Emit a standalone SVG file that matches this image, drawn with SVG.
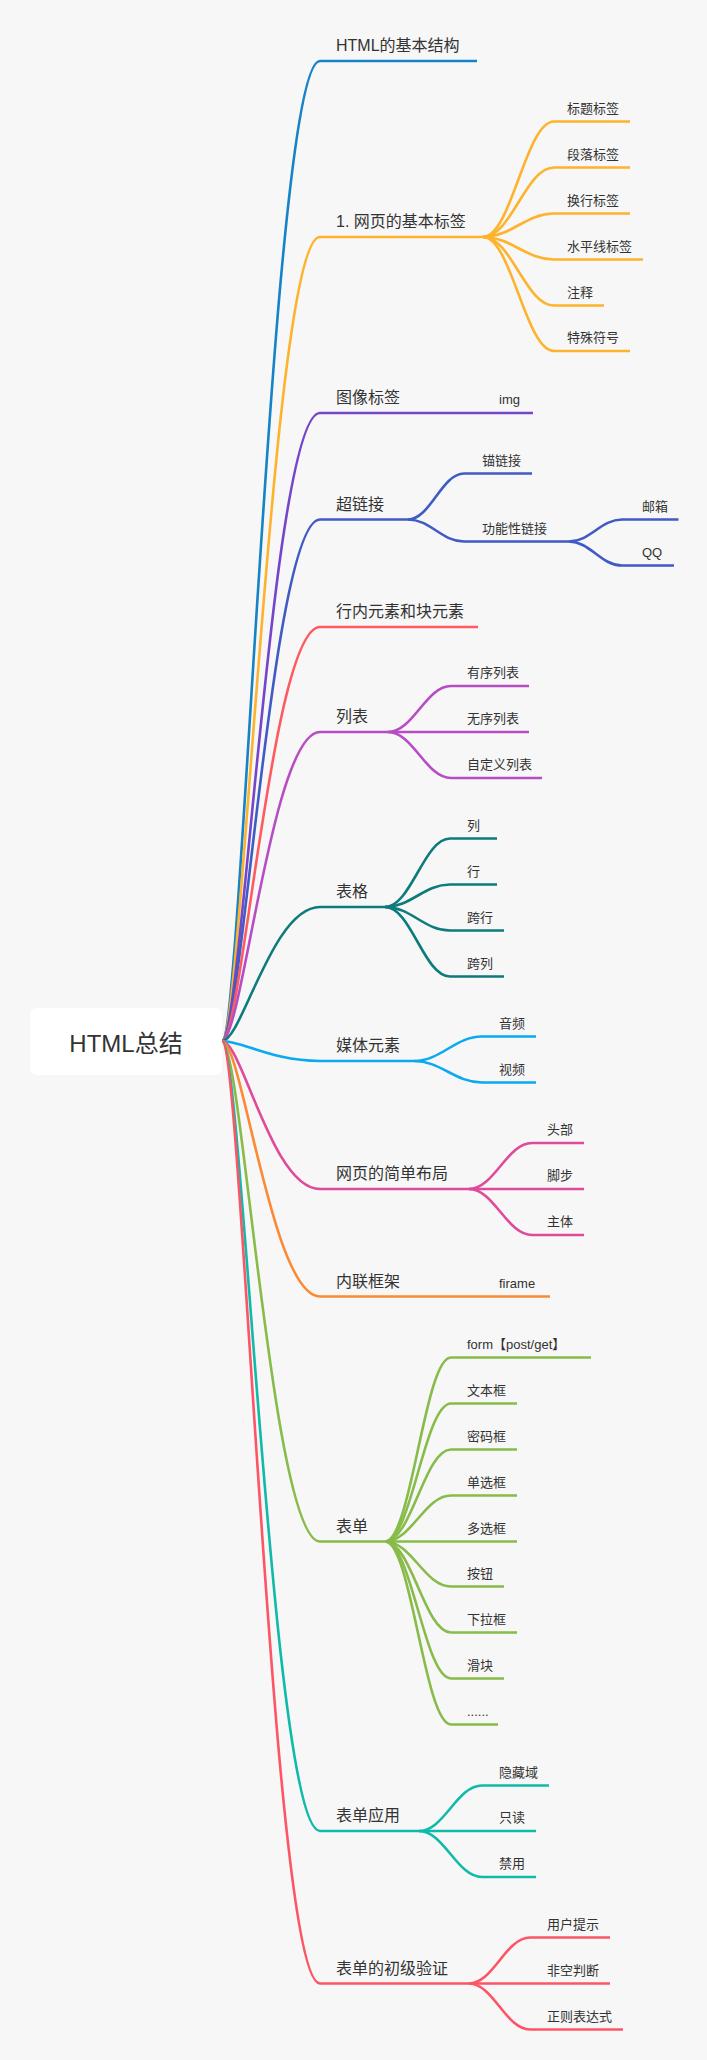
<svg xmlns="http://www.w3.org/2000/svg" width="707" height="2060" viewBox="0 0 707 2060">
<style>
.bg{fill:#f7f7f7}
.c{fill:none;stroke-width:2.6}
.t1{font-family:"Liberation Sans","Noto Sans CJK SC",sans-serif;font-size:16px;fill:#333}
.t2{font-family:"Liberation Sans","Noto Sans CJK SC",sans-serif;font-size:13px;fill:#333}
.t0{font-family:"Liberation Sans","Noto Sans CJK SC",sans-serif;font-size:24px;fill:#333}
.b1{stroke:#1583c6}.b2{stroke:#fdb32d}.b3{stroke:#7446c9}.b4{stroke:#405bc4}.b5{stroke:#ff5a5f}
.b6{stroke:#b84cc4}.b7{stroke:#0e7b7b}.b8{stroke:#0ba9f0}.b9{stroke:#e04a9a}.b10{stroke:#fa8a35}
.b11{stroke:#87bb4a}.b12{stroke:#10baaa}.b13{stroke:#fc5566}
</style>
<rect class="bg" x="0" y="0" width="707" height="2060"/>
<g id="connectors">
<path class="c b1" d="M222 1041 C242 1041 272 61 320 61 L477 61"/>
<path class="c b2" d="M222 1041 C242 1041 272 237 320 237 L483 237"/>
<path class="c b3" d="M222 1041 C242 1041 272 413 320 413 L415 413"/>
<path class="c b4" d="M222 1041 C242 1041 272 519.5 320 519.5 L408 519.5"/>
<path class="c b5" d="M222 1041 C242 1041 272 627 320 627 L478 627"/>
<path class="c b6" d="M222 1041 C242 1041 272 732 320 732 L388 732"/>
<path class="c b7" d="M222 1041 C242 1041 272 907 320 907 L385 907"/>
<path class="c b8" d="M222 1041 C242 1041 272 1061 320 1061 L414 1061"/>
<path class="c b9" d="M222 1041 C242 1041 272 1189 320 1189 L469 1189"/>
<path class="c b10" d="M222 1041 C242 1041 272 1296.5 320 1296.5 L414 1296.5"/>
<path class="c b11" d="M222 1041 C242 1041 272 1541.5 320 1541.5 L385 1541.5"/>
<path class="c b12" d="M222 1041 C242 1041 272 1831 320 1831 L419 1831"/>
<path class="c b13" d="M222 1041 C242 1041 272 1983.5 320 1983.5 L469 1983.5"/>

<path class="c b2" d="M483 237 C511.4 237 525.6 121.5 554 121.5 L630 121.5"/>
<path class="c b2" d="M483 237 C511.4 237 525.6 167.5 554 167.5 L630 167.5"/>
<path class="c b2" d="M483 237 C511.4 237 525.6 213.5 554 213.5 L630 213.5"/>
<path class="c b2" d="M483 237 C511.4 237 525.6 259.5 554 259.5 L643 259.5"/>
<path class="c b2" d="M483 237 C511.4 237 525.6 305.5 554 305.5 L604 305.5"/>
<path class="c b2" d="M483 237 C511.4 237 525.6 351 554 351 L630 351"/>

<path class="c b3" d="M415 413 L533 413"/>

<path class="c b4" d="M408 519.5 C430.4 519.5 441.6 473.5 464 473.5 L532 473.5"/>
<path class="c b4" d="M408 519.5 C430.4 519.5 441.6 541.5 464 541.5 L569 541.5"/>
<path class="c b4" d="M569 541.5 C590.2 541.5 600.8 519.5 622 519.5 L678.5 519.5"/>
<path class="c b4" d="M569 541.5 C590.2 541.5 600.8 565.5 622 565.5 L674 565.5"/>

<path class="c b6" d="M388 732 C413.2 732 425.8 686 451 686 L529 686"/>
<path class="c b6" d="M388 732 L529 732"/>
<path class="c b6" d="M388 732 C413.2 732 425.8 778 451 778 L542 778"/>

<path class="c b7" d="M385 907 C411 907 424 838.5 450 838.5 L497 838.5"/>
<path class="c b7" d="M385 907 C411 907 424 884.5 450 884.5 L497 884.5"/>
<path class="c b7" d="M385 907 C411 907 424 930.5 450 930.5 L504 930.5"/>
<path class="c b7" d="M385 907 C411 907 424 976.5 450 976.5 L504 976.5"/>

<path class="c b8" d="M414 1061 C441.2 1061 454.8 1036.5 482 1036.5 L536 1036.5"/>
<path class="c b8" d="M414 1061 C441.2 1061 454.8 1082.5 482 1082.5 L536 1082.5"/>

<path class="c b9" d="M469 1189 C494.2 1189 506.8 1143 532 1143 L584 1143"/>
<path class="c b9" d="M469 1189 L584 1189"/>
<path class="c b9" d="M469 1189 C494.2 1189 506.8 1235 532 1235 L584 1235"/>

<path class="c b10" d="M414 1296.5 L550 1296.5"/>

<path class="c b11" d="M385 1541.5 C411.4 1541.5 424.6 1357.5 451 1357.5 L591 1357.5"/>
<path class="c b11" d="M385 1541.5 C411.4 1541.5 424.6 1403.5 451 1403.5 L517 1403.5"/>
<path class="c b11" d="M385 1541.5 C411.4 1541.5 424.6 1449.5 451 1449.5 L517 1449.5"/>
<path class="c b11" d="M385 1541.5 C411.4 1541.5 424.6 1495.5 451 1495.5 L517 1495.5"/>
<path class="c b11" d="M385 1541.5 L517 1541.5"/>
<path class="c b11" d="M385 1541.5 C411.4 1541.5 424.6 1586.5 451 1586.5 L504 1586.5"/>
<path class="c b11" d="M385 1541.5 C411.4 1541.5 424.6 1632.5 451 1632.5 L517 1632.5"/>
<path class="c b11" d="M385 1541.5 C411.4 1541.5 424.6 1678.5 451 1678.5 L504 1678.5"/>
<path class="c b11" d="M385 1541.5 C411.4 1541.5 424.6 1724.5 451 1724.5 L498 1724.5"/>

<path class="c b12" d="M419 1831 C444.2 1831 456.8 1785.5 482 1785.5 L549 1785.5"/>
<path class="c b12" d="M419 1831 L536 1831"/>
<path class="c b12" d="M419 1831 C444.2 1831 456.8 1877 482 1877 L536 1877"/>

<path class="c b13" d="M469 1983.5 C493.4 1983.5 505.6 1937.5 530 1937.5 L610 1937.5"/>
<path class="c b13" d="M469 1983.5 L610 1983.5"/>
<path class="c b13" d="M469 1983.5 C493.4 1983.5 505.6 2029.5 530 2029.5 L623 2029.5"/>
</g>

<g id="root">
<rect x="30" y="1008" width="192" height="67" rx="7" fill="#ffffff"/>
<text class="t0" x="126" y="1051.5" text-anchor="middle">HTML总结</text>
</g>

<g id="n-structure"><text class="t1" x="336" y="51">HTML的基本结构</text></g>
<g id="n-basic-tags"><text class="t1" x="336" y="227">1. 网页的基本标签</text>
<text class="t2" x="567" y="112.5">标题标签</text>
<text class="t2" x="567" y="158.5">段落标签</text>
<text class="t2" x="567" y="204.5">换行标签</text>
<text class="t2" x="567" y="250.5">水平线标签</text>
<text class="t2" x="567" y="296.5">注释</text>
<text class="t2" x="567" y="342">特殊符号</text></g>
<g id="n-image"><text class="t1" x="336" y="403">图像标签</text>
<text class="t2" x="499" y="404">img</text></g>
<g id="n-link"><text class="t1" x="336" y="509.5">超链接</text>
<text class="t2" x="482" y="464.5">锚链接</text>
<text class="t2" x="482" y="532.5">功能性链接</text>
<text class="t2" x="642" y="510.5">邮箱</text>
<text class="t2" x="642" y="556.5">QQ</text></g>
<g id="n-inline"><text class="t1" x="336" y="617">行内元素和块元素</text></g>
<g id="n-list"><text class="t1" x="336" y="722">列表</text>
<text class="t2" x="467" y="677">有序列表</text>
<text class="t2" x="467" y="723">无序列表</text>
<text class="t2" x="467" y="769">自定义列表</text></g>
<g id="n-table"><text class="t1" x="336" y="897">表格</text>
<text class="t2" x="467" y="829.5">列</text>
<text class="t2" x="467" y="875.5">行</text>
<text class="t2" x="467" y="921.5">跨行</text>
<text class="t2" x="467" y="967.5">跨列</text></g>
<g id="n-media"><text class="t1" x="336" y="1051">媒体元素</text>
<text class="t2" x="499" y="1027.5">音频</text>
<text class="t2" x="499" y="1073.5">视频</text></g>
<g id="n-layout"><text class="t1" x="336" y="1179">网页的简单布局</text>
<text class="t2" x="547" y="1134">头部</text>
<text class="t2" x="547" y="1180">脚步</text>
<text class="t2" x="547" y="1226">主体</text></g>
<g id="n-iframe"><text class="t1" x="336" y="1286.5">内联框架</text>
<text class="t2" x="499" y="1287.5">firame</text></g>
<g id="n-form"><text class="t1" x="336" y="1531.5">表单</text>
<text class="t2" x="467" y="1348.5">form【post/get】</text>
<text class="t2" x="467" y="1394.5">文本框</text>
<text class="t2" x="467" y="1440.5">密码框</text>
<text class="t2" x="467" y="1486.5">单选框</text>
<text class="t2" x="467" y="1532.5">多选框</text>
<text class="t2" x="467" y="1577.5">按钮</text>
<text class="t2" x="467" y="1623.5">下拉框</text>
<text class="t2" x="467" y="1669.5">滑块</text>
<text class="t2" x="467" y="1715.5">......</text></g>
<g id="n-form-app"><text class="t1" x="336" y="1821">表单应用</text>
<text class="t2" x="499" y="1776.5">隐藏域</text>
<text class="t2" x="499" y="1822">只读</text>
<text class="t2" x="499" y="1868">禁用</text></g>
<g id="n-validate"><text class="t1" x="336" y="1973.5">表单的初级验证</text>
<text class="t2" x="547" y="1928.5">用户提示</text>
<text class="t2" x="547" y="1974.5">非空判断</text>
<text class="t2" x="547" y="2020.5">正则表达式</text></g>
</svg>
